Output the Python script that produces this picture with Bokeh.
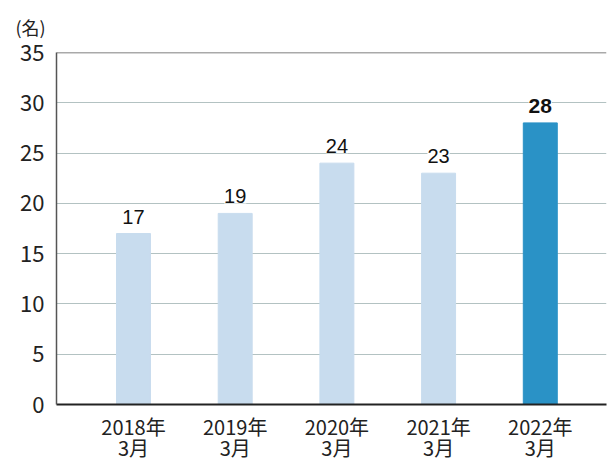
from bokeh.plotting import figure
from bokeh.models import ColumnDataSource, Range1d, FixedTicker, LabelSet, Span, LinearAxis
from bokeh.core.properties import value
from bokeh.embed import file_html
from bokeh.resources import INLINE

years = ["2018年", "2019年", "2020年", "2021年", "2022年"]
months = ["3月", "3月", "3月", "3月", "3月"]
values = [17, 19, 24, 23, 28]
bar_colors = ["#c8dcee", "#c8dcee", "#c8dcee", "#c8dcee", "#2a92c6"]
y_ticks = [0, 5, 10, 15, 20, 25, 30, 35]
unit_label = "(名)"

xs = list(range(len(years)))

p = figure(width=607, height=464, output_backend="svg", toolbar_location=None,
           x_range=Range1d(-0.757, 4.651), y_range=Range1d(0, 35),
           x_axis_location=None,
           min_border_left=56, min_border_right=1, min_border_top=52, min_border_bottom=0)
p.outline_line_color = None
p.background_fill_color = "white"

src = ColumnDataSource(dict(x=xs, top=values, color=bar_colors))
p.vbar(x="x", top="top", width=0.334, bottom=0, color="color", source=src)

# x axes (two lines of category labels)
ax1 = LinearAxis(ticker=FixedTicker(ticks=xs),
                 major_label_overrides={i: c for i, c in zip(xs, years)})
ax2 = LinearAxis(ticker=FixedTicker(ticks=xs),
                 major_label_overrides={i: c for i, c in zip(xs, months)})
for ax in (ax1, ax2):
    ax.major_label_text_font = "Noto Sans CJK JP"
    ax.major_label_text_font_size = "20px"
    ax.major_label_text_color = "#222222"
ax1.major_label_standoff = 7
ax1.axis_line_color = "#222222"
ax1.axis_line_width = 2
ax2.major_label_standoff = -11
ax2.axis_line_color = None
p.add_layout(ax1, "below")
p.add_layout(ax2, "below")

p.yaxis.ticker = FixedTicker(ticks=y_ticks)
p.yaxis.major_label_text_font = "Noto Sans CJK JP"
p.yaxis.major_label_text_font_size = "22px"
p.yaxis.major_label_text_color = "#222222"
p.yaxis.major_label_standoff = 12
p.yaxis.axis_line_color = "#555555"
p.yaxis.axis_line_width = 1.5

for ax in (ax1, ax2, p.yaxis[0]):
    ax.major_tick_line_color = None
    ax.minor_tick_line_color = None
    ax.major_tick_out = 0
    ax.major_tick_in = 0
    ax.minor_tick_out = 0
    ax.minor_tick_in = 0

p.xgrid.grid_line_color = None
p.ygrid.grid_line_color = "#b3c2c2"
p.ygrid.grid_line_width = 1

p.add_layout(Span(location=35, dimension="width", line_color="#555555", line_width=1.5))

# value labels
light = ColumnDataSource(dict(x=xs[:-1], y=values[:-1], label=[str(v) for v in values[:-1]]))
dark = ColumnDataSource(dict(x=xs[-1:], y=values[-1:], label=[str(v) for v in values[-1:]]))
p.add_layout(LabelSet(x="x", y="y", text="label", source=light, text_align="center",
                      text_baseline="middle", y_offset=17, text_font=value("Liberation Sans"),
                      text_font_size=value("20px"), text_color="#111111",
                      background_fill_color="white", border_line_color=None))
p.add_layout(LabelSet(x="x", y="y", text="label", source=dark, text_align="center",
                      text_baseline="middle", y_offset=17, text_font=value("Liberation Sans"),
                      text_font_size=value("21px"), text_font_style="bold", text_color="#111111",
                      background_fill_color="white", border_line_color=None))

p.title.text = unit_label
p.title.align = "left"
p.title.vertical_align = "top"
p.title.offset = -41
p.title.text_font = "Noto Sans CJK JP"
p.title.text_font_size = "18px"
p.title.text_font_style = "normal"
p.title.text_color = "#222222"
p.title.standoff = 21

open("out.html", "w").write(file_html(p, INLINE))
